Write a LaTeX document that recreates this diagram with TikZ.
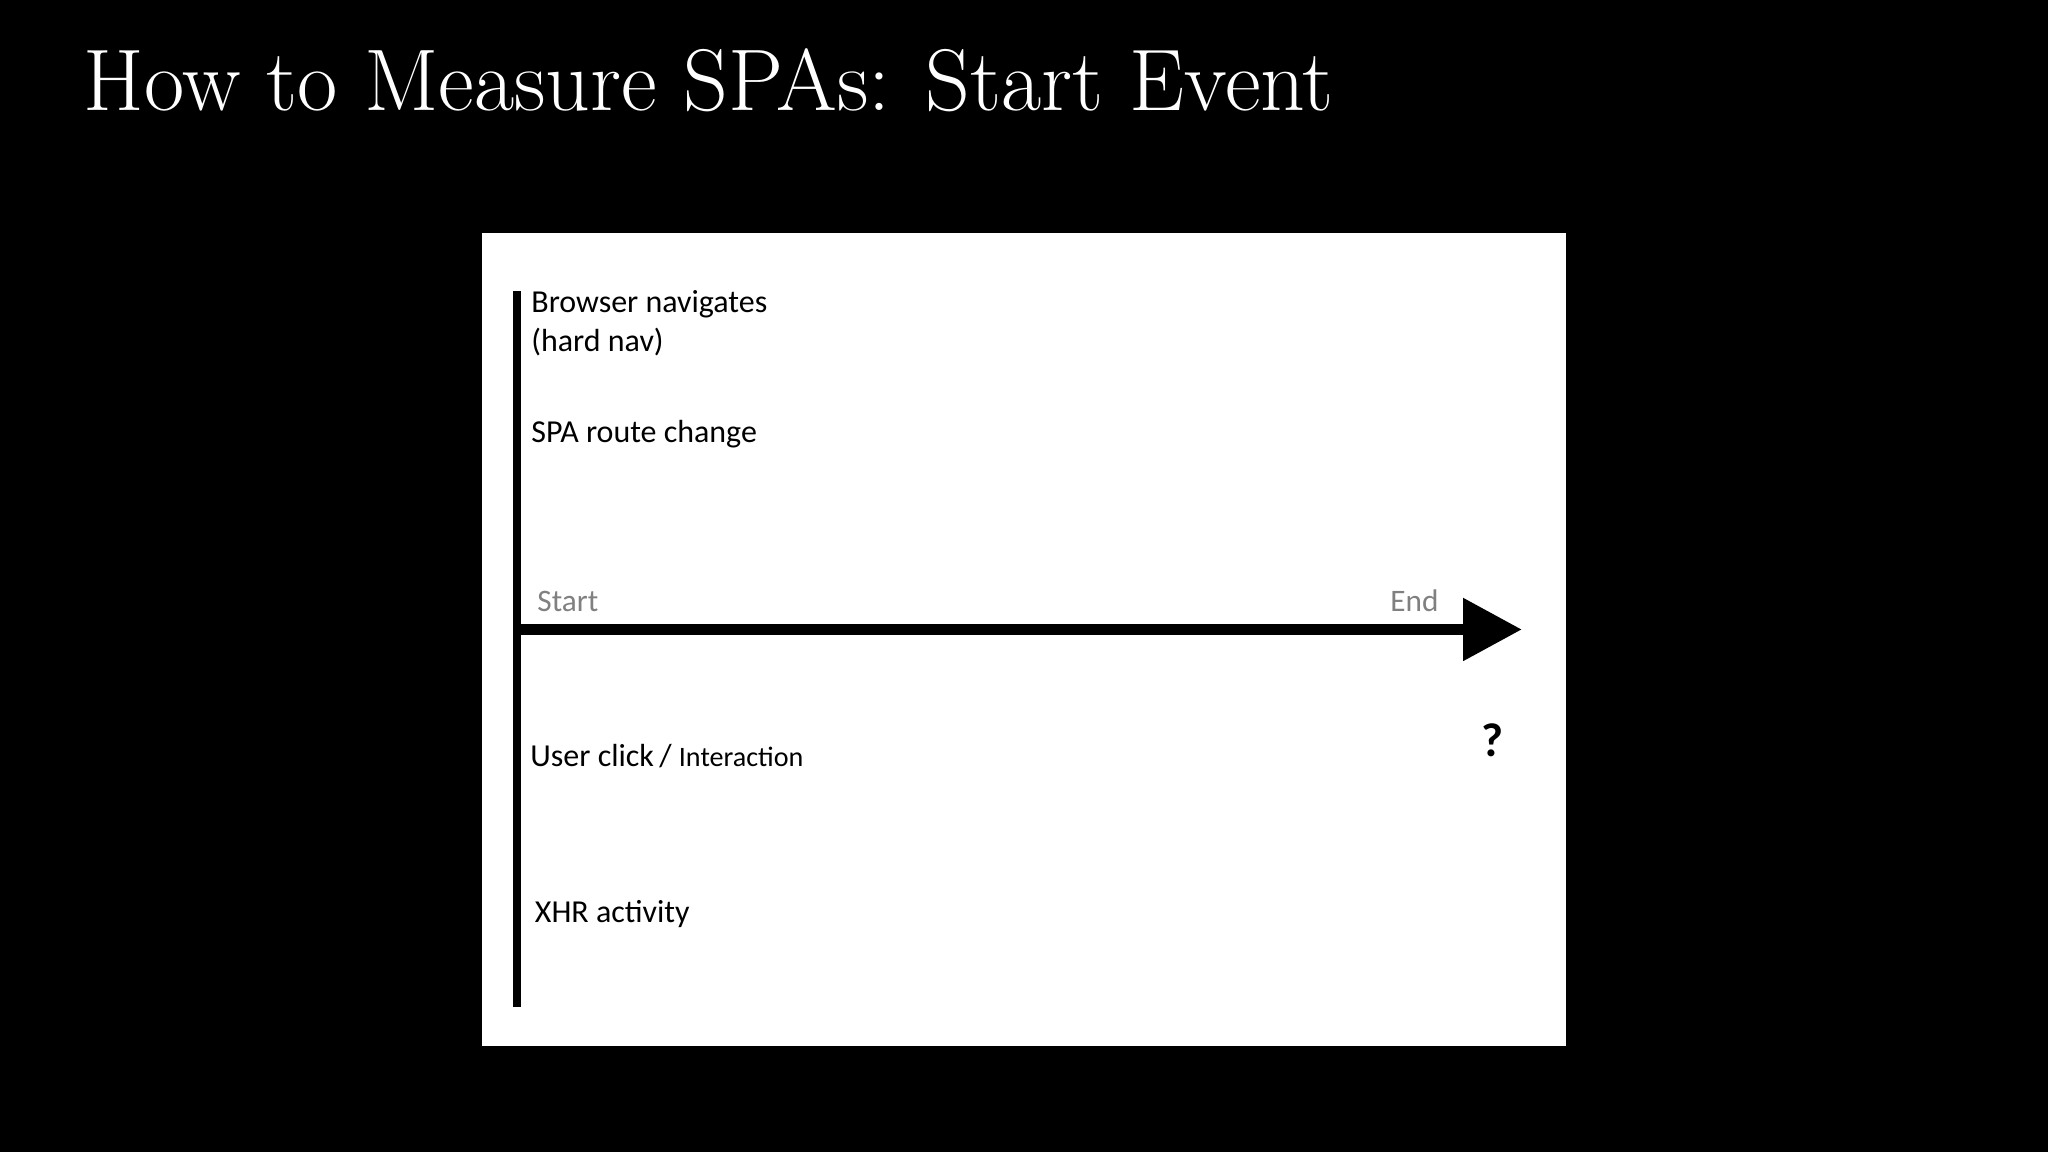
\documentclass[tikz,border=0pt]{standalone}
\usepackage{fontspec}
\newfontfamily\calibri{Carlito}
\usetikzlibrary{arrows.meta}

\begin{document}
\begin{tikzpicture}[thick,
        lbl/.style={anchor=base west, inner sep=0pt, font=\calibri\fontsize{9.1}{11}\selectfont},
        tag/.style={inner sep=0pt, text=black!50, font=\calibri\fontsize{8.9}{11}\selectfont}]
        % slide background and picture frame
        \fill[black] (0,0) rectangle (20.48,11.52);
        \fill[white] (4.82,1.06) rectangle (15.66,9.19);
        \node(100) at (0.82,10.41) [anchor=base west, inner sep=0pt, text=white, font=\fontsize{24.9}{28}\selectfont] {How to Measure SPAs: Start Event};
        % timeline
        \coordinate(200) at (5.17,8.61);
        \coordinate(201) at (5.17,1.45);
        \coordinate(202) at (5.14,5.225);
        \coordinate(203) at (15.22,5.225);
        \draw [line width=2pt] (200) -- (201);
        \draw [line width=3.4pt, -{Triangle[length=0.59cm, width=0.60cm]}] (202) -- (203);
        \node(101) at (5.36,5.40) [tag, anchor=base west] {Start};
        \node(102) at (14.40,5.40) [tag, anchor=base east] {End};
        % events
        \node(111) at (5.30,8.39) [lbl] {Browser navigates};
        \node(112) at (5.30,8.00) [lbl] {(hard nav)};
        \node(113) at (5.30,7.09) [lbl] {SPA route change};
        \node(114) at (5.29,3.85) [lbl] {User click\,/ {\fontsize{8}{10}\selectfont Interaction}};
        \node(115) at (5.335,2.29) [lbl] {XHR activity};
        \node(121) at (14.80,3.95) [lbl, font=\calibri\bfseries\fontsize{13.5}{15}\selectfont] {?};
    \end{tikzpicture}
\end{document}
